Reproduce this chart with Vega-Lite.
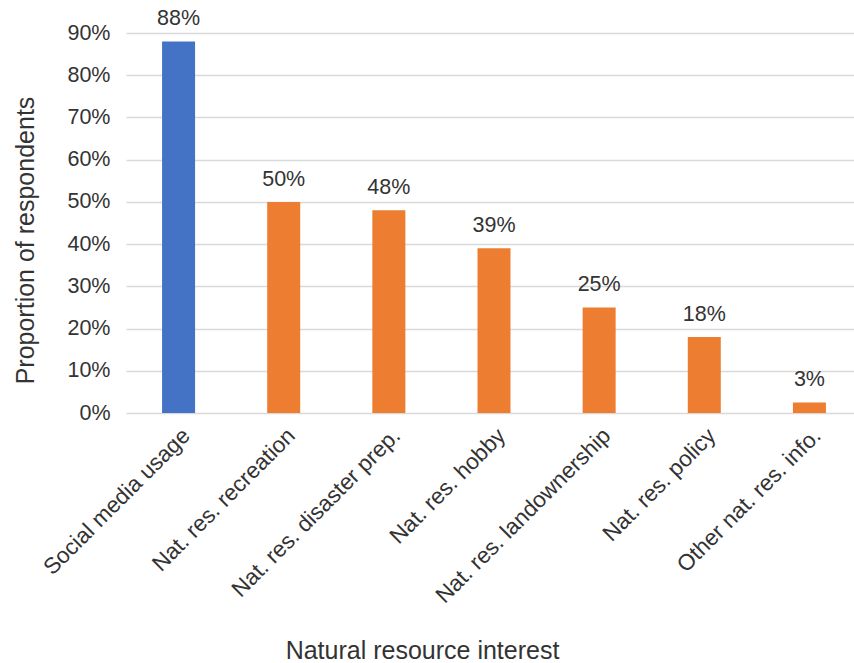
{
  "$schema": "https://vega.github.io/schema/vega-lite/v6.json",
  "width": 728,
  "height": 380,
  "autosize": {"type": "none"},
  "padding": {"left": 126, "top": 33, "right": 0, "bottom": 250},
  "background": "white",
  "data": {
    "values": [
      {"interest": "Social media usage", "share": 0.88, "kind": "Social media"},
      {"interest": "Nat. res. recreation", "share": 0.50, "kind": "Natural resource"},
      {"interest": "Nat. res. disaster prep.", "share": 0.48, "kind": "Natural resource"},
      {"interest": "Nat. res. hobby", "share": 0.39, "kind": "Natural resource"},
      {"interest": "Nat. res. landownership", "share": 0.25, "kind": "Natural resource"},
      {"interest": "Nat. res. policy", "share": 0.18, "kind": "Natural resource"},
      {"interest": "Other nat. res. info.", "share": 0.025, "kind": "Natural resource"}
    ]
  },
  "config": {
    "view": {"stroke": null},
    "font": "Liberation Sans",
    "axis": {
      "labelColor": "#333333",
      "titleColor": "#333333",
      "titleFontWeight": "normal",
      "labelFont": "Liberation Sans",
      "titleFont": "Liberation Sans"
    }
  },
  "encoding": {
    "x": {
      "field": "interest",
      "type": "nominal",
      "sort": null,
      "scale": {"range": [0, 736], "paddingInner": 0.686, "paddingOuter": 0.343},
      "axis": {
        "title": "Natural resource interest",
        "titleFontSize": 25,
        "titleX": 296,
        "titleY": 245,
        "titleAlign": "center",
        "titleBaseline": "alphabetic",
        "titleLimit": 0,
        "labelAngle": -45,
        "labelAlign": "right",
        "labelBaseline": "top",
        "labelPadding": 11,
        "labelFontSize": 22.5,
        "labelLimit": 0,
        "labelOverlap": false,
        "domain": false,
        "ticks": false,
        "grid": false
      }
    },
    "y": {
      "field": "share",
      "type": "quantitative",
      "scale": {"domain": [0, 0.9], "nice": false},
      "axis": {
        "title": "Proportion of respondents",
        "titleFontSize": 25,
        "titleX": -93,
        "titleY": 207,
        "titleAlign": "center",
        "titleBaseline": "alphabetic",
        "titleLimit": 0,
        "values": [0, 0.1, 0.2, 0.3, 0.4, 0.5, 0.6, 0.7, 0.8, 0.9],
        "format": ".0%",
        "labelFontSize": 21.5,
        "labelPadding": 16,
        "domain": false,
        "ticks": false,
        "grid": true,
        "gridColor": "#d9d9d9",
        "gridWidth": 1.5
      }
    }
  },
  "layer": [
    {
      "mark": {"type": "bar"},
      "encoding": {
        "color": {
          "field": "kind",
          "type": "nominal",
          "scale": {"domain": ["Social media", "Natural resource"], "range": ["#4472C4", "#ED7D31"]},
          "legend": null
        }
      }
    },
    {
      "mark": {"type": "text", "baseline": "alphabetic", "dy": -16, "fontSize": 21.5, "color": "#333333"},
      "encoding": {
        "text": {"field": "share", "type": "quantitative", "format": ".0%"}
      }
    }
  ]
}
